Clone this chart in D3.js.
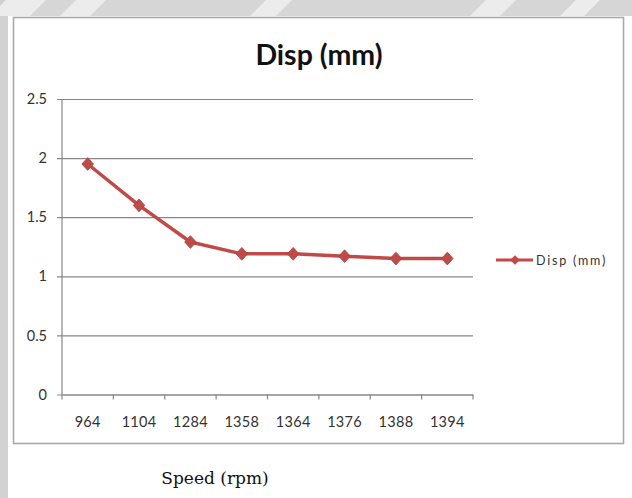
<!DOCTYPE html>
<html>
<head>
<meta charset="utf-8">
<script src="https://cdn.jsdelivr.net/npm/d3@7"></script>
<style>
  html, body { margin: 0; padding: 0; background: #ffffff; }
  svg { display: block; }
</style>
</head>
<body>
<script>
// Displacement measured at each spindle speed
const speeds = ["964", "1104", "1284", "1358", "1364", "1376", "1388", "1394"];
const disp = [1.95, 1.6, 1.29, 1.19, 1.19, 1.17, 1.15, 1.15];
const yTicks = [0, 0.5, 1, 1.5, 2, 2.5];
const titleText = "Disp (mm)";
const seriesName = "Disp (mm)";
const xAxisTitle = "Speed (rpm)";

const W = 632, H = 498;
const red = "#bf4a47";
const gridColor = "#878787";
const labelFont = "Lato, 'Noto Sans', sans-serif";

const svg = d3.select("body").append("svg")
  .attr("width", W).attr("height", H);

// page surround: grey strips with lighter diagonal streaks
svg.append("rect").attr("x", 0).attr("y", 0).attr("width", W).attr("height", 16).attr("fill", "#d6d6d6");
svg.append("rect").attr("x", 0).attr("y", 0).attr("width", 8).attr("height", H).attr("fill", "#d2d2d2");
const streaks = [[-10, 40], [60, 30], [250, 26], [470, 30], [560, 24]];
svg.selectAll("path.streak").data(streaks).join("path")
  .attr("class", "streak")
  .attr("d", d => `M${d[0]},16 L${d[0] + d[1]},16 L${d[0] + d[1] + 16},0 L${d[0] + 16},0 Z`)
  .attr("fill", "#ececec");

// chart frame
svg.append("rect")
  .attr("x", 13.5).attr("y", 17.5).attr("width", 610).attr("height", 426)
  .attr("fill", "#ffffff").attr("stroke", "#a9a9a9").attr("stroke-width", 1.6);

// plot area
const plotLeft = 62, plotRight = 473, plotTop = 99, plotBottom = 394.5;

const x = d3.scaleBand().domain(speeds).range([plotLeft, plotRight]);
const y = d3.scaleLinear().domain([0, 2.5]).range([plotBottom, plotTop]);

// horizontal gridlines with y labels
const yAxis = d3.axisLeft(y).tickValues(yTicks).tickFormat(d3.format("~g"))
  .tickSize(-(plotRight - plotLeft)).tickPadding(10);
const gy = svg.append("g").attr("transform", `translate(${plotLeft},0)`).call(yAxis);
gy.select(".domain").remove();
gy.selectAll(".tick line").attr("stroke", gridColor).attr("stroke-width", 1.2).attr("x1", -5);
gy.selectAll(".tick text")
  .attr("font-family", labelFont)
  .attr("font-size", 14.5).attr("fill", "#333").attr("x", -15);

// vertical axis line
svg.append("line")
  .attr("x1", plotLeft).attr("x2", plotLeft).attr("y1", plotTop).attr("y2", plotBottom)
  .attr("stroke", gridColor).attr("stroke-width", 1.2);

// category axis: tick marks at band edges, labels centred in bands
const gx = svg.append("g").attr("transform", `translate(0,${plotBottom})`)
  .call(d3.axisBottom(x).tickSize(0).tickPadding(22));
gx.select(".domain").attr("stroke", gridColor).attr("stroke-width", 1.2);
gx.selectAll(".tick text")
  .attr("font-family", labelFont)
  .attr("font-size", 14.5).attr("letter-spacing", 0.3).attr("fill", "#333");
const edges = speeds.map(s => x(s)).concat([x(speeds[speeds.length - 1]) + x.bandwidth()]);
gx.selectAll("line.edge").data(edges).join("line")
  .attr("class", "edge")
  .attr("x1", d => d).attr("x2", d => d).attr("y1", 0).attr("y2", 5)
  .attr("stroke", gridColor).attr("stroke-width", 1.2);

// series line
const cx = d => x(d) + x.bandwidth() / 2;
const line = d3.line().x((d, i) => cx(speeds[i])).y(d => y(d));
svg.append("path").datum(disp)
  .attr("d", line).attr("fill", "none")
  .attr("stroke", red).attr("stroke-width", 3.5).attr("stroke-linejoin", "round");

// diamond markers
const diamond = d3.symbol().type(d3.symbolDiamond2).size(85);
svg.selectAll("path.pt").data(disp).join("path")
  .attr("class", "pt")
  .attr("transform", (d, i) => `translate(${cx(speeds[i])},${y(d)}) scale(1,1.1)`)
  .attr("d", diamond).attr("fill", red).attr("stroke", "#a9423f").attr("stroke-width", 0.8);

// title
svg.append("text")
  .attr("x", 319).attr("y", 65).attr("text-anchor", "middle")
  .attr("font-family", labelFont).attr("font-weight", "bold")
  .attr("font-size", 28.5).attr("fill", "#111")
  .text(titleText);

// legend
const lg = svg.append("g").attr("transform", "translate(496,260)");
lg.append("line").attr("x1", 0).attr("x2", 37).attr("y1", 0).attr("y2", 0)
  .attr("stroke", red).attr("stroke-width", 3.2);
lg.append("path").attr("transform", "translate(19,0)")
  .attr("d", d3.symbol().type(d3.symbolDiamond2).size(60)).attr("fill", red);
lg.append("text").attr("x", 40).attr("y", 4.5)
  .attr("font-family", labelFont).attr("font-size", 12.5)
  .attr("letter-spacing", 1.8).attr("fill", "#333")
  .text(seriesName);

// axis title under the frame
svg.append("text")
  .attr("x", 215).attr("y", 484).attr("text-anchor", "middle")
  .attr("font-family", "'DejaVu Serif', serif").attr("font-size", 17).attr("fill", "#111")
  .text(xAxisTitle);
</script>
</body>
</html>
